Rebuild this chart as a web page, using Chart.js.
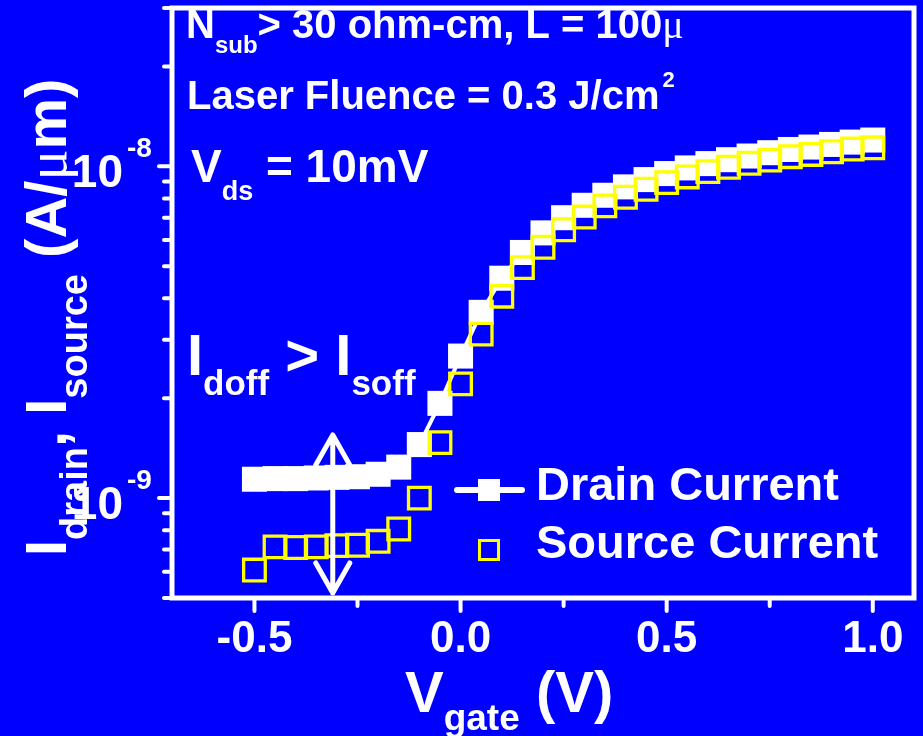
<!DOCTYPE html>
<html>
<head>
<meta charset="utf-8">
<script src="https://cdn.jsdelivr.net/npm/chart.js@4/dist/chart.umd.min.js"></script>
<style>
  html, body { margin: 0; padding: 0; background: #0000ff; }
  #wrap { width: 923px; height: 736px; }
</style>
</head>
<body>
<div id="wrap"><canvas id="chart" width="923" height="736"></canvas></div>
<script>
// Gate voltage sweep (V)
const gateVoltage = [-0.5, -0.45, -0.4, -0.35, -0.3, -0.25, -0.2, -0.15, -0.1, -0.05,
  0.0, 0.05, 0.1, 0.15, 0.2, 0.25, 0.3, 0.35, 0.4, 0.45, 0.5,
  0.55, 0.6, 0.65, 0.7, 0.75, 0.8, 0.85, 0.9, 0.95, 1.0];

// Drain current (A/um)
const drainCurrent = [1.14e-9, 1.145e-9, 1.145e-9, 1.15e-9, 1.155e-9, 1.16e-9, 1.18e-9, 1.24e-9, 1.45e-9, 1.93e-9,
  2.68e-9, 3.63e-9, 4.6e-9, 5.5e-9, 6.3e-9, 7.0e-9, 7.63e-9, 8.18e-9, 8.67e-9, 9.12e-9, 9.51e-9,
  9.89e-9, 1.019e-8, 1.047e-8, 1.074e-8, 1.099e-8, 1.124e-8, 1.143e-8, 1.164e-8, 1.183e-8, 1.20e-8];

// Source current (A/um)
const sourceCurrent = [6.07e-10, 7.13e-10, 7.10e-10, 7.13e-10, 7.19e-10, 7.21e-10, 7.41e-10, 8.07e-10, 1.0e-9, 1.47e-9,
  2.21e-9, 3.12e-9, 4.06e-9, 4.95e-9, 5.70e-9, 6.44e-9, 7.03e-9, 7.60e-9, 8.07e-9, 8.53e-9, 8.93e-9,
  9.29e-9, 9.64e-9, 9.93e-9, 1.021e-8, 1.044e-8, 1.069e-8, 1.086e-8, 1.106e-8, 1.127e-8, 1.137e-8];

// Axis ticks
const xMajorTicks = [-0.5, 0.0, 0.5, 1.0];
const xTickLabels = ['-0.5', '0.0', '0.5', '1.0'];
const xMinorTicks = [-0.25, 0.25, 0.75];
const yDecades = [1e-9, 1e-8];
const yDecadeExponents = ['-9', '-8'];

// Double-headed arrow marking the off-current gap (V, A/um)
const arrowGate = -0.31;
const arrowTop = 1.55e-9;
const arrowBottom = 5.18e-10;

const BLUE = '#0000ff';
const WHITE = '#ffffff';
const YELLOW = '#ffff00';
const SANS = '"Liberation Sans", Arial, sans-serif';
const SERIF = '"Liberation Serif", "Times New Roman", serif';

function toPoints(xs, ys) {
  return xs.map((v, i) => ({ x: v, y: ys[i] }));
}

// Draws a sequence of text runs (for sub/superscripts) starting at (x, y)
function drawRuns(ctx, x, y, parts) {
  let cx = x;
  for (const p of parts) {
    const weight = p.weight || 'bold';
    const family = p.family || SANS;
    ctx.font = `${weight} ${p.size}px ${family}`;
    ctx.fillText(p.t, cx, y + (p.dy || 0));
    cx += ctx.measureText(p.t).width;
  }
  return cx;
}

const bluePage = {
  id: 'bluePage',
  beforeDraw(chart) {
    const { ctx, width, height } = chart;
    ctx.save();
    ctx.fillStyle = BLUE;
    ctx.fillRect(0, 0, width, height);
    ctx.restore();
  }
};

const decorations = {
  id: 'decorations',
  afterDraw(chart) {
    const { ctx, chartArea: a } = chart;
    const xs = chart.scales.x;
    const ys = chart.scales.y;
    ctx.save();
    ctx.strokeStyle = WHITE;
    ctx.fillStyle = WHITE;

    // frame
    ctx.lineWidth = 5;
    ctx.strokeRect(a.left, a.top, a.right - a.left, a.bottom - a.top);

    // y ticks (outward)
    ctx.lineCap = 'round';
    ctx.lineWidth = 4;
    const yMin = ys.min, yMax = ys.max;
    for (const d of [1e-10, 1e-9, 1e-8]) {
      for (let k = 1; k <= 9; k++) {
        const v = k * d;
        if (v < yMin * 0.9999 || v > yMax * 1.0001) continue;
        const py = ys.getPixelForValue(v);
        const len = k === 1 ? 13 : 8;
        ctx.beginPath();
        ctx.moveTo(a.left, py);
        ctx.lineTo(a.left - len, py);
        ctx.stroke();
      }
    }
    // x ticks (outward)
    for (const v of xMajorTicks) {
      const px = xs.getPixelForValue(v);
      ctx.beginPath();
      ctx.moveTo(px, a.bottom);
      ctx.lineTo(px, a.bottom + 13);
      ctx.stroke();
    }
    for (const v of xMinorTicks) {
      const px = xs.getPixelForValue(v);
      ctx.beginPath();
      ctx.moveTo(px, a.bottom);
      ctx.lineTo(px, a.bottom + 8);
      ctx.stroke();
    }

    // x tick labels
    ctx.textBaseline = 'alphabetic';
    ctx.textAlign = 'center';
    ctx.font = `bold 44px ${SANS}`;
    xMajorTicks.forEach((v, i) => {
      ctx.fillText(xTickLabels[i], xs.getPixelForValue(v), 652);
    });

    // y tick labels 10^n
    yDecades.forEach((v, i) => {
      const py = ys.getPixelForValue(v);
      ctx.textAlign = 'right';
      ctx.font = `bold 46px ${SANS}`;
      ctx.fillText('10', 123, py + 21);
      ctx.textAlign = 'left';
      ctx.font = `bold 28px ${SANS}`;
      ctx.fillText(yDecadeExponents[i], 127, py - 9);
    });

    // x axis title
    ctx.textAlign = 'left';
    drawRuns(ctx, 405, 712, [
      { t: 'V', size: 58 },
      { t: 'gate', size: 37, dy: 18 },
      { t: ' (V)', size: 58 }
    ]);

    // y axis title (rotated)
    ctx.save();
    ctx.translate(66, 556);
    ctx.rotate(-Math.PI / 2);
    drawRuns(ctx, 0, 0, [
      { t: 'I', size: 58 },
      { t: 'drain', size: 38, dy: 21 },
      { t: ', I', size: 58 },
      { t: 'source', size: 38, dy: 21 },
      { t: ' (A/', size: 58 },
      { t: '\u03bc', size: 58, weight: 'normal', family: SERIF },
      { t: 'm)', size: 58 }
    ]);
    ctx.restore();

    // annotations
    drawRuns(ctx, 186, 38, [
      { t: 'N', size: 40 },
      { t: 'sub', size: 24, dy: 15 },
      { t: '> 30 ohm-cm, L = 100', size: 40 },
      { t: '\u03bc', size: 40, weight: 'normal', family: SERIF }
    ]);
    const endFl = drawRuns(ctx, 187, 109, [
      { t: 'Laser Fluence = 0.3 J/cm', size: 40 }
    ]);
    drawRuns(ctx, endFl + 3, 87, [{ t: '2', size: 22 }]);
    drawRuns(ctx, 191, 182, [
      { t: 'V', size: 46 },
      { t: 'ds', size: 27, dy: 18 },
      { t: ' = 10mV', size: 46 }
    ]);
    drawRuns(ctx, 187, 375, [
      { t: 'I', size: 58 },
      { t: 'doff', size: 35, dy: 20 },
      { t: ' > I', size: 58 },
      { t: 'soff', size: 35, dy: 20 }
    ]);

    // double-headed arrow
    const axp = xs.getPixelForValue(arrowGate);
    const ayt = ys.getPixelForValue(arrowTop);
    const ayb = ys.getPixelForValue(arrowBottom);
    ctx.lineWidth = 5;
    ctx.lineCap = 'round';
    ctx.lineJoin = 'round';
    ctx.beginPath();
    ctx.moveTo(axp, ayt);
    ctx.lineTo(axp, ayb);
    ctx.moveTo(axp - 17, ayt + 30);
    ctx.lineTo(axp, ayt);
    ctx.lineTo(axp + 17, ayt + 30);
    ctx.moveTo(axp - 17, ayb - 30);
    ctx.lineTo(axp, ayb);
    ctx.lineTo(axp + 17, ayb - 30);
    ctx.stroke();

    // legend
    ctx.lineWidth = 6;
    ctx.beginPath();
    ctx.moveTo(457, 490);
    ctx.lineTo(522, 490);
    ctx.stroke();
    ctx.fillRect(478, 479, 22, 22);
    ctx.strokeStyle = YELLOW;
    ctx.lineWidth = 3;
    ctx.lineCap = 'butt';
    ctx.lineJoin = 'miter';
    ctx.strokeRect(479.5, 540.5, 19, 19);
    ctx.fillStyle = WHITE;
    ctx.font = `bold 47px ${SANS}`;
    ctx.textAlign = 'left';
    ctx.fillText('Drain Current', 536, 500);
    ctx.fillText('Source Current', 536, 558);

    ctx.restore();
  }
};

new Chart(document.getElementById('chart'), {
  type: 'scatter',
  data: {
    datasets: [
      {
        label: 'Drain Current',
        data: toPoints(gateVoltage, drainCurrent),
        showLine: true,
        borderColor: WHITE,
        borderWidth: 4,
        pointStyle: 'rect',
        pointRadius: 17.7,
        pointBackgroundColor: WHITE,
        pointBorderColor: WHITE,
        pointBorderWidth: 0,
        order: 2
      },
      {
        label: 'Source Current',
        data: toPoints(gateVoltage, sourceCurrent),
        showLine: false,
        pointStyle: 'rect',
        pointRadius: 15.3,
        pointBackgroundColor: 'rgba(0,0,0,0)',
        pointBorderColor: YELLOW,
        pointBorderWidth: 3.3,
        order: 1
      }
    ]
  },
  options: {
    responsive: false,
    animation: false,
    devicePixelRatio: 1,
    events: [],
    layout: { autoPadding: false, padding: { left: 0, right: 9, top: 8, bottom: 0 } },
    plugins: { legend: { display: false }, tooltip: { enabled: false } },
    scales: {
      x: {
        type: 'linear',
        min: -0.7,
        max: 1.1,
        grid: { display: false },
        border: { display: false },
        ticks: { display: false },
        afterFit(s) { s.height = 736 - 598; }
      },
      y: {
        type: 'logarithmic',
        min: 5e-10,
        max: 3e-8,
        grid: { display: false },
        border: { display: false },
        ticks: { display: false },
        afterFit(s) { s.width = 172; }
      }
    }
  },
  plugins: [bluePage, decorations]
});
</script>
</body>
</html>
